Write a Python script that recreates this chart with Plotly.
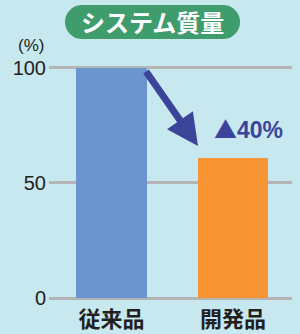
import plotly.graph_objects as go
import math

categories = ["従来品", "開発品"]
values = [100, 61]
bar_colors = ["#6a95cf", "#f79534"]
y_ticks = [0, 50, 100]
y_tick_labels = ["0", "50", "100"]
title_text = "システム質量"
unit_text = "(%)"
change_mark = "▲"
change_text = "40%"

W, H = 300, 334
L, R, T, B = 49, 8, 60, 30
PW, PH = W - L - R, H - T - B

def px2paper(px, py):
    return (px - L) / PW, (H - B - py) / PH

def pill_path(x0, y0, x1, y1):
    r = (y1 - y0) / 2
    pts = []
    cx1, cx2, cy = x0 + r, x1 - r, (y0 + y1) / 2
    for i in range(0, 21):
        a = math.pi / 2 + math.pi * i / 20
        pts.append((cx1 + r * math.cos(a), cy - r * math.sin(a)))
    for i in range(0, 21):
        a = -math.pi / 2 + math.pi * i / 20
        pts.append((cx2 + r * math.cos(a), cy - r * math.sin(a)))
    s = ""
    for k, (px, py) in enumerate(pts):
        xp, yp = px2paper(px, py)
        s += ("M" if k == 0 else "L") + f"{xp:.5f},{yp:.5f} "
    return s + "Z"

fig = go.Figure()
fig.add_trace(go.Bar(
    x=[0, 1], y=values, marker=dict(color=bar_colors, line=dict(width=0)),
    width=0.58, hoverinfo="skip",
))

fig.add_shape(type="path", xref="paper", yref="paper",
              path=pill_path(65, 5, 240, 39), fillcolor="#3e9c6d",
              line=dict(width=0), layer="above")

fig.add_annotation(text=f"<b>{title_text}</b>", xref="paper", yref="paper",
                   x=px2paper(152.5, 22)[0], y=px2paper(152.5, 22)[1],
                   showarrow=False, font=dict(size=24, color="white",
                   family="Noto Sans CJK JP"), xanchor="center", yanchor="middle")

fig.add_annotation(text=unit_text, xref="paper", yref="paper",
                   x=px2paper(31, 45)[0], y=px2paper(31, 45)[1],
                   showarrow=False, font=dict(size=17, color="#231f20",
                   family="Liberation Sans"), xanchor="center", yanchor="middle")

# arrow
fig.add_annotation(x=0.712, y=66, ax=0.276, ay=99, xref="x", yref="y",
                   axref="x", ayref="y", text="", showarrow=True,
                   arrowhead=2, arrowsize=0.9, arrowwidth=7, arrowcolor="#3c449a")

fig.add_annotation(
    text=(f"<span style='font-family:Noto Sans CJK JP;font-size:23px'>{change_mark}</span>"
          f"<b>{change_text}</b>"),
    xref="paper", yref="paper",
    x=px2paper(248, 128)[0], y=px2paper(248, 128)[1],
    showarrow=False, font=dict(size=23, color="#3c449a", family="Liberation Sans"),
    xanchor="center", yanchor="middle")

fig.update_layout(
    width=W, height=H, margin=dict(l=L, r=R, t=T, b=B),
    paper_bgcolor="#c7e8ee", plot_bgcolor="#c7e8ee",
    showlegend=False, bargap=0,
    xaxis=dict(range=[-0.514, 1.486], showgrid=False, zeroline=False,
               showline=False, ticks="", automargin=False,
               tickfont=dict(size=22, color="#231f20", family="Noto Sans CJK JP"),
               tickvals=[0, 1], ticktext=[f"<b>{c}</b>" for c in categories]),
    yaxis=dict(range=[-2.47, 103.3], tickvals=y_ticks, ticktext=y_tick_labels,
               showgrid=True, gridcolor="#b4b4b4", gridwidth=3, zeroline=False,
               showline=False, ticks="", ticklabelstandoff=2, automargin=False,
               tickfont=dict(size=20, color="#231f20", family="Liberation Sans")),
)

fig.write_html("out.html", config={"displayModeBar": False},
               post_script="document.body.style.margin='0';document.body.style.background='#c7e8ee';")
